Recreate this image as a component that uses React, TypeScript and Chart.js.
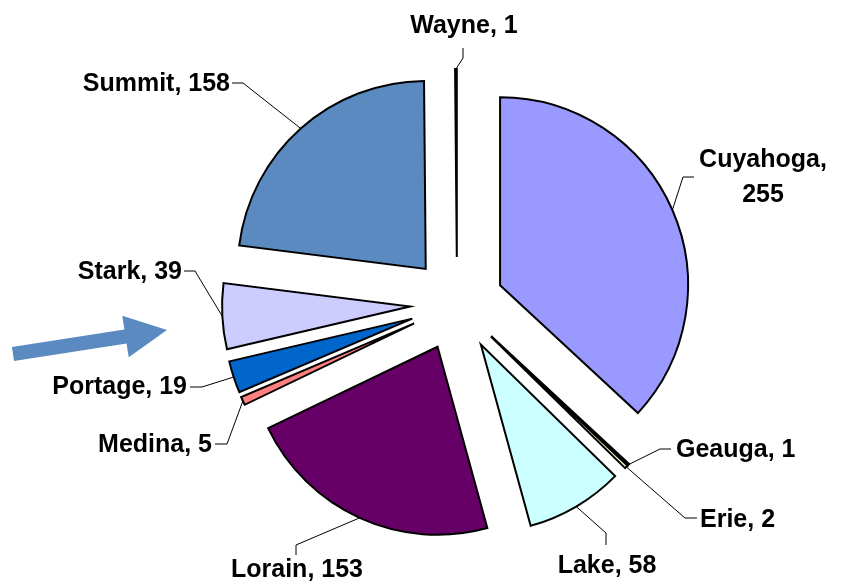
import React, { useEffect, useRef } from "react";
import { Chart, registerables } from "chart.js";

Chart.register(...registerables);

const categories = ["Cuyahoga", "Geauga", "Erie", "Lake", "Lorain", "Medina", "Portage", "Stark", "Summit", "Wayne"];
const values = [255, 1, 2, 58, 153, 5, 19, 39, 158, 1];
const colors = ["#9999FF", "#993366", "#FFFFCC", "#CCFFFF", "#660066", "#FF8080", "#0066CC", "#CCCCFF", "#5A8AC0", "#FF00FF"];

const EXPLODE = 47;

// label leader-line layout (elbow, end of leader, text anchor)
const labelLayout = [
  { elbow: [683, 177], end: [694, 177], text: [763, 167], align: "center", wrap: true },
  { elbow: [660, 449], end: [671, 449], text: [676, 457], align: "left" },
  { elbow: [685, 518], end: [697, 518], text: [700, 527], align: "left" },
  { elbow: [606, 533], end: [606, 545], text: [607, 573], align: "center" },
  { elbow: [296, 545], end: [296, 555], text: [297, 577], align: "center" },
  { elbow: [227, 444], end: [215, 444], text: [212, 452], align: "right" },
  { elbow: [202, 387], end: [190, 387], text: [187, 394], align: "right" },
  { elbow: [195, 271], end: [184, 271], text: [182, 279], align: "right" },
  { elbow: [243, 83], end: [232, 83], text: [230, 91], align: "right" },
  { elbow: [463, 58], end: [463, 48], text: [464, 33], align: "center" },
];

const explodePlugin = {
  id: "explode",
  beforeDatasetDraw(chart: any, args: any) {
    const ctx = chart.ctx;
    const meta = args.meta;
    meta.data.forEach((arc: any) => {
      const mid = (arc.startAngle + arc.endAngle) / 2;
      ctx.save();
      ctx.translate(Math.cos(mid) * EXPLODE, Math.sin(mid) * EXPLODE);
      arc.draw(ctx);
      ctx.restore();
    });
    return false;
  },
};

const labelPlugin = {
  id: "leaderLabels",
  afterDraw(chart: any) {
    const ctx = chart.ctx;
    const meta = chart.getDatasetMeta(0);
    ctx.save();
    // arrow
    const tail = [13, 354];
    const tip = [167, 330];
    const dx = tip[0] - tail[0], dy = tip[1] - tail[1];
    const len = Math.hypot(dx, dy);
    const ux = dx / len, uy = dy / len;
    const nx = -uy, ny = ux;
    const headLen = 42, headHalf = 21, shaftHalf = 7;
    const bx = tip[0] - ux * headLen, by = tip[1] - uy * headLen;
    ctx.beginPath();
    ctx.moveTo(tail[0] + nx * shaftHalf, tail[1] + ny * shaftHalf);
    ctx.lineTo(bx + nx * shaftHalf, by + ny * shaftHalf);
    ctx.lineTo(bx + nx * headHalf, by + ny * headHalf);
    ctx.lineTo(tip[0], tip[1]);
    ctx.lineTo(bx - nx * headHalf, by - ny * headHalf);
    ctx.lineTo(bx - nx * shaftHalf, by - ny * shaftHalf);
    ctx.lineTo(tail[0] - nx * shaftHalf, tail[1] - ny * shaftHalf);
    ctx.closePath();
    ctx.fillStyle = "#5A8AC0";
    ctx.fill();

    ctx.font = "bold 25px 'Liberation Sans', Arial, sans-serif";
    ctx.fillStyle = "#000";
    ctx.strokeStyle = "#000";
    ctx.lineWidth = 1;
    meta.data.forEach((arc: any, i: number) => {
      const lay = labelLayout[i];
      if (!lay) return;
      const mid = (arc.startAngle + arc.endAngle) / 2;
      const r = arc.outerRadius + EXPLODE;
      const sx = arc.x + Math.cos(mid) * r;
      const sy = arc.y + Math.sin(mid) * r;
      ctx.beginPath();
      ctx.moveTo(sx, sy);
      ctx.lineTo(lay.elbow[0], lay.elbow[1]);
      ctx.lineTo(lay.end[0], lay.end[1]);
      ctx.stroke();
      ctx.textAlign = lay.align;
      ctx.textBaseline = "alphabetic";
      if (lay.wrap) {
        ctx.fillText(categories[i] + ",", lay.text[0], lay.text[1]);
        ctx.fillText(String(values[i]), lay.text[0], lay.text[1] + 35);
      } else {
        ctx.fillText(categories[i] + ", " + values[i], lay.text[0], lay.text[1]);
      }
    });
    ctx.restore();
  },
};

export default function App() {
  const ref = useRef<HTMLCanvasElement>(null);
  useEffect(() => {
    if (!ref.current) return;
    const chart = new Chart(ref.current, {
      type: "pie",
      data: {
        labels: categories,
        datasets: [
          {
            data: values,
            backgroundColor: colors,
            borderColor: "#000",
            borderWidth: 2,
            offset: 0,
            hoverOffset: 0,
            borderJoinStyle: "miter",
          },
        ],
      },
      options: {
        responsive: false,
        animation: false,
        events: [],
        radius: 188,
        layout: { padding: { left: 72, right: 0, top: 21, bottom: 0 } },
        plugins: {
          legend: { display: false },
          tooltip: { enabled: false },
          title: { display: false },
        },
      } as any,
      plugins: [explodePlugin, labelPlugin],
    });
    return () => chart.destroy();
  }, []);
  return (
    <div style={{ position: "absolute", left: 0, top: 0, width: 842, height: 587, background: "#fff" }}>
      <canvas ref={ref} width={842} height={587} style={{ display: "block" }} />
    </div>
  );
}
